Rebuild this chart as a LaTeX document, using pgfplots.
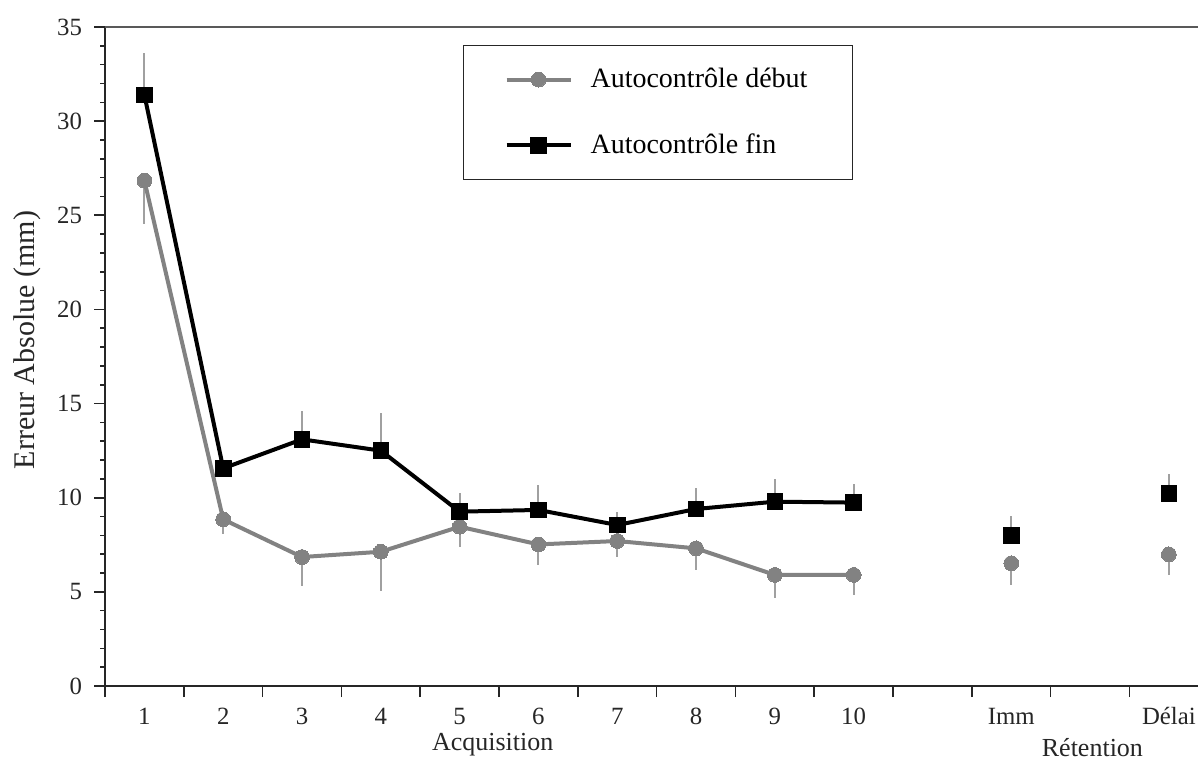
\documentclass[border=0pt]{standalone}
\usepackage{fontspec}
\setmainfont{Liberation Serif}
\usepackage{pgfplots}
\usepackage{pgfplotstable}
\pgfplotsset{compat=1.18}
\definecolor{lgray}{RGB}{130,130,130}
\definecolor{egray}{RGB}{160,160,160}

\pgfplotstableread{
x y err
1 26.84 2.32
2 8.85 0.78
3 6.85 1.54
4 7.13 2.07
5 8.46 1.06
6 7.52 1.09
7 7.70 0.83
8 7.31 1.15
9 5.90 1.24
10 5.90 1.07
12 6.52 1.16
14 6.99 1.09
}\debut

\pgfplotstableread{
x y err
1 31.39 2.21
2 11.56 0.40
3 13.10 1.52
4 12.50 1.98
5 9.26 1.01
6 9.35 1.32
7 8.55 0.71
8 9.40 1.10
9 9.79 1.19
10 9.74 0.99
12 7.98 1.05
14 10.23 1.01
}\fin

\begin{document}
\begin{tikzpicture}
\begin{axis}[
  scale only axis, width=546.5pt, height=329.5pt,
  xmin=0.5, xmax=14.37, ymin=0, ymax=35,
  clip=false,
  axis x line=bottom, axis y line=left,
  axis line style={-, line width=1pt, black!85},
  tick align=outside,
  major tick length=5.5pt, minor tick length=2.5pt,
  every tick/.style={black!85, line width=0.8pt},
  xtick={0.5,1.5,...,13.5}, xticklabels={},
  extra x ticks={1,2,3,4,5,6,7,8,9,10,12,14},
  extra x tick labels={1,2,3,4,5,6,7,8,9,10,Imm,Délai},
  extra x tick style={major tick length=0pt},
  xticklabel style={font=\fontsize{12.4}{14}\selectfont, text height=9pt, text depth=2pt, yshift=-6.9pt, text=black!85},
  ytick={0,5,...,35}, minor y tick num=4,
  yticklabel style={font=\fontsize{12.4}{14}\selectfont, text=black!85, xshift=-2.5pt},
  /pgf/number format/assume math mode=true,
  ylabel={Erreur Absolue (mm)},
  ylabel style={at={(axis description cs:-0.0714,0.525)}, anchor=center, font=\fontsize{15}{17}\selectfont, text=black!85},
  legend style={at={(axis description cs:0.3275,0.973)}, anchor=north west, draw=black!85, line width=0.6pt,
    font=\fontsize{14}{16}\selectfont, inner xsep=20.5pt, inner ysep=9.5pt, row sep=17.5pt,
    /tikz/every odd column/.append style={column sep=7pt}},
  legend cell align=left,
  legend image code/.code={\draw[mark repeat=2,mark phase=2,#1] plot coordinates {(0pt,0pt) (16pt,0pt) (32pt,0pt)};},
]
\coordinate (bl) at (rel axis cs:0,0);
\coordinate (tr) at (rel axis cs:1,1);
\draw[line width=0.8pt, black!65] (rel axis cs:0,1) -- (rel axis cs:1,1);
% error bars (drawn first)
\addplot[forget plot, draw=none, mark=none, error bars/.cd, y dir=minus, y explicit,
  error bar style={draw=egray, line width=1pt}, error mark=none] table[x=x, y=y, y error=err] {\debut};
\addplot[forget plot, draw=none, mark=none, error bars/.cd, y dir=plus, y explicit,
  error bar style={draw=egray, line width=1pt}, error mark=none] table[x=x, y=y, y error=err] {\fin};
% acquisition lines
\addplot[lgray, line width=2pt, mark=*, mark size=3.7pt, mark options={solid, fill=lgray, draw=lgray, line width=0pt},
  restrict x to domain=0:10.5] table[x=x, y=y] {\debut};
\addlegendentry{Autocontrôle début}
\addplot[black, line width=2pt, mark=square*, mark size=3.9pt, mark options={solid, fill=black, line width=0pt},
  restrict x to domain=0:10.5] table[x=x, y=y] {\fin};
\addlegendentry{Autocontrôle fin}
% retention points
\addplot[forget plot, only marks, mark=*, mark size=3.7pt, mark options={fill=lgray, draw=lgray, line width=0pt},
  restrict x to domain=11:15] table[x=x, y=y] {\debut};
\addplot[forget plot, only marks, mark=square*, mark size=3.9pt, mark options={fill=black, draw=black, line width=0pt},
  restrict x to domain=11:15] table[x=x, y=y] {\fin};
\node[font=\fontsize{13}{15}\selectfont, text=black!85] at (axis cs:5.42,0) [yshift=-29.5pt] {Acquisition};
\node[font=\fontsize{13}{15}\selectfont, text=black!85] at (axis cs:13.03,0) [yshift=-31pt] {Rétention};
\end{axis}
\pgfresetboundingbox
\path ([xshift=-52.5pt,yshift=-37pt]bl) rectangle ([yshift=13.5pt]tr);
\end{tikzpicture}
\end{document}
